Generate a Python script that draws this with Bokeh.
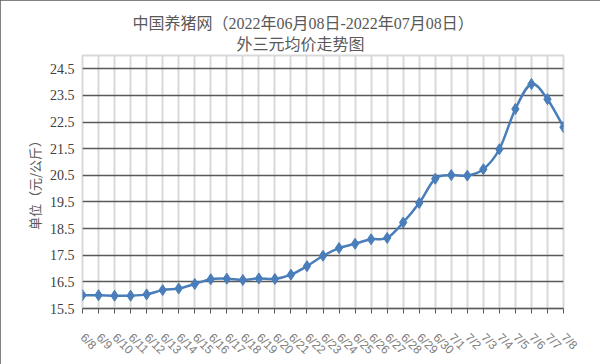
import math
from bokeh.plotting import figure
from bokeh.models import Range1d, FixedTicker, Title, ColumnDataSource
from bokeh.embed import file_html
from bokeh.resources import INLINE

categories = ["6/8", "6/9", "6/10", "6/11", "6/12", "6/13", "6/14", "6/15", "6/16", "6/17",
              "6/18", "6/19", "6/20", "6/21", "6/22", "6/23", "6/24", "6/25", "6/26", "6/27",
              "6/28", "6/29", "6/30", "7/1", "7/2", "7/3", "7/4", "7/5", "7/6", "7/7", "7/8"]
prices = [16.00, 16.00, 15.98, 15.98, 16.03, 16.19, 16.25, 16.42, 16.60, 16.62,
          16.57, 16.63, 16.61, 16.77, 17.09, 17.48, 17.77, 17.93, 18.10, 18.15,
          18.73, 19.46, 20.37, 20.51, 20.49, 20.73, 21.48, 22.99, 23.93, 23.36, 22.31]
y_ticks = [15.5, 16.5, 17.5, 18.5, 19.5, 20.5, 21.5, 22.5, 23.5, 24.5]
title_line1 = "中国养猪网（2022年06月08日-2022年07月08日）"
title_line2 = "外三元均价走势图"
y_label = "单位（元/公斤）"

xs = list(range(len(categories)))

p = figure(width=600, height=364, output_backend="svg", toolbar_location=None,
           x_range=Range1d(0, len(categories) - 1), y_range=Range1d(15.5, 25.0),
           min_border_left=82, min_border_right=37, min_border_top=55, min_border_bottom=55)
p.background_fill_color = "white"
p.border_fill_color = "white"
p.outline_line_color = "#D9D9D9"
p.outline_line_width = 2
p.styles = {"outline": "2px solid #595959", "outline-offset": "-2px"}

# axes
p.xaxis.ticker = FixedTicker(ticks=xs)
p.xaxis.major_label_overrides = {i: c for i, c in enumerate(categories)}
p.xaxis.major_label_orientation = -math.pi / 4
p.xaxis.axis_line_color = "#595959"
p.xaxis.axis_line_width = 1.5
p.xaxis.major_tick_line_color = "#595959"
p.xaxis.major_tick_out = 5
p.xaxis.major_tick_in = 0
p.xaxis.minor_tick_line_color = None
p.xaxis.major_label_text_color = "#808080"
p.xaxis.major_label_text_font = "Liberation Sans"
p.xaxis.major_label_text_font_size = "12px"
p.xaxis.major_label_standoff = 22

p.yaxis.ticker = FixedTicker(ticks=y_ticks)
p.yaxis.major_label_overrides = {t: f"{t:.1f}" for t in y_ticks}
p.yaxis.axis_line_color = None
p.yaxis.major_tick_line_color = None
p.yaxis.major_tick_out = 0
p.yaxis.minor_tick_line_color = None
p.yaxis.major_label_text_color = "#404040"
p.yaxis.major_label_text_font = "Liberation Serif"
p.yaxis.major_label_text_font_size = "14px"
p.yaxis.major_label_standoff = 8
p.yaxis.axis_label = y_label
p.yaxis.axis_label_text_font = "Noto Sans CJK SC"
p.yaxis.axis_label_text_font_style = "normal"
p.yaxis.axis_label_text_font_size = "13px"
p.yaxis.axis_label_text_color = "#595959"
p.yaxis.axis_label_standoff = 3

p.xgrid.ticker = FixedTicker(ticks=xs)
p.xgrid.grid_line_color = "#D9D9D9"
p.xgrid.grid_line_width = 2
p.ygrid.ticker = FixedTicker(ticks=y_ticks)
p.ygrid.grid_line_color = "#595959"
p.ygrid.grid_line_width = 1.5

# smoothed line (Excel style bezier through the data points)
n = len(prices)
x0, y0, x1, y1, cx0, cy0, cx1, cy1 = [], [], [], [], [], [], [], []
for i in range(n - 1):
    xa, ya = xs[i], prices[i]
    xb, yb = xs[i + 1], prices[i + 1]
    xp, yp = (xs[i - 1], prices[i - 1]) if i > 0 else (xa, ya)
    xn, yn = (xs[i + 2], prices[i + 2]) if i + 2 < n else (xb, yb)
    x0.append(xa); y0.append(ya); x1.append(xb); y1.append(yb)
    cx0.append(xa + (xb - xp) / 6); cy0.append(ya + (yb - yp) / 6)
    cx1.append(xb - (xn - xa) / 6); cy1.append(yb - (yn - ya) / 6)
p.bezier(x0=x0, y0=y0, x1=x1, y1=y1, cx0=cx0, cy0=cy0, cx1=cx1, cy1=cy1,
         line_color="#4A7EBB", line_width=2.5)

src = ColumnDataSource(dict(x=xs, y=prices))
p.scatter("x", "y", source=src, marker="diamond", size=11,
          fill_color="#4A7EBB", line_color="#4A7EBB")

# two-line title (added nearest-first)
title_font = "Liberation Serif, Noto Sans CJK SC"
t2 = Title(text=title_line2, align="left", offset=154, text_font=title_font,
           text_font_size="16px", text_font_style="normal", text_color="#595959",
           standoff=5)
t1 = Title(text=title_line1, align="left", offset=50, text_font=title_font,
           text_font_size="16px", text_font_style="normal", text_color="#595959", standoff=0)
p.add_layout(t2, "above")
p.add_layout(t1, "above")

open("out.html", "w").write(file_html(p, INLINE))
